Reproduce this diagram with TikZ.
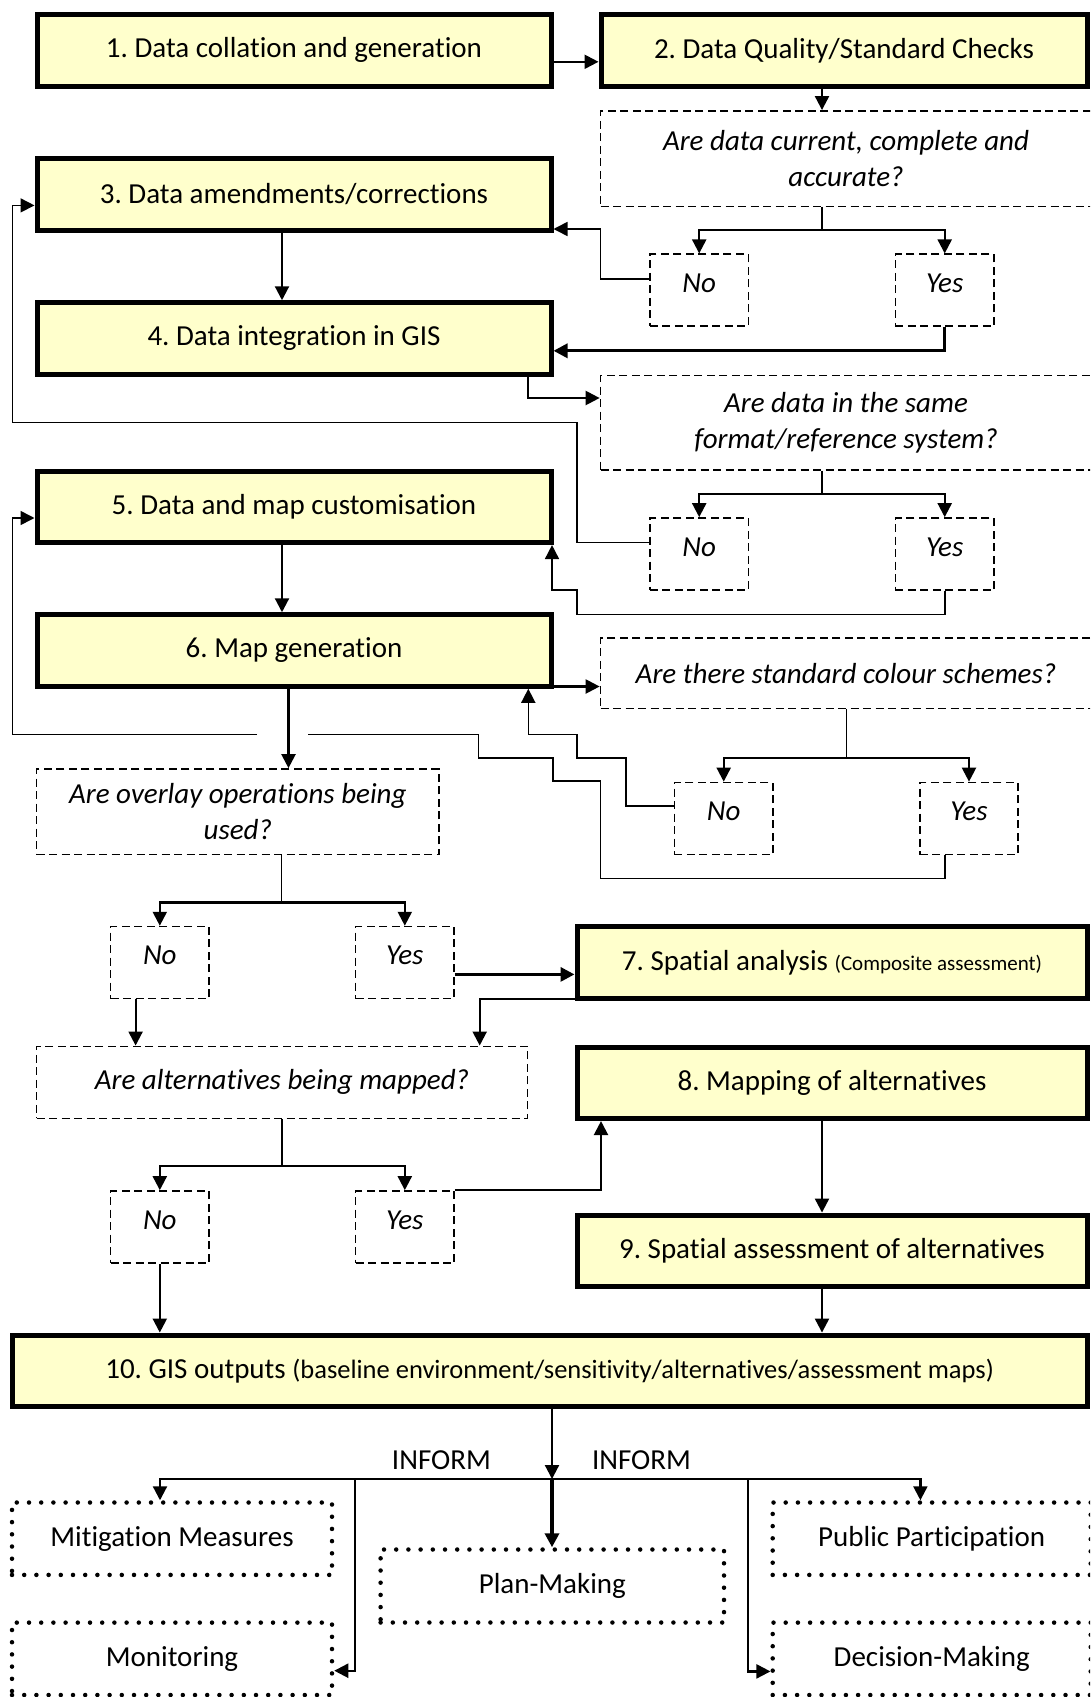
\documentclass[tikz,border=0pt]{standalone}
\usepackage{fontspec}
\setmainfont{Carlito}[Ligatures=NoCommon]
\usetikzlibrary{arrows.meta}
\definecolor{boxfill}{RGB}{255,255,204}
\newcommand{\bodysize}{\fontsize{29}{35.5}\selectfont}
\frenchspacing
\tikzset{stage/.style={draw, line width=5pt, fill=boxfill, inner sep=0pt,
                       minimum width=514pt, minimum height=71.5pt},
         ask/.style={draw, line width=1.7pt, dash pattern=on 8pt off 4.5pt,
                     inner sep=0pt, align=center, font=\bodysize\itshape},
         answer/.style={ask, minimum width=98.5pt, minimum height=72pt,
                        text height=18.7pt, text depth=14pt},
         outcome/.style={draw, line width=4.5pt, line cap=round,
                         dash pattern=on 0pt off 12.2pt, inner sep=0pt,
                         minimum width=320pt, minimum height=72.4pt},
         arr/.style={line width=2.2pt, -{Triangle[length=14pt,width=14pt]}},
         link/.style={line width=1.6pt},
         back/.style={link, -{Triangle[length=14pt,width=14pt]}}}

\begin{document}
\begin{tikzpicture}[x=1pt, y=-1pt, every node/.append style={font=\bodysize}]
\useasboundingbox (0,0) rectangle (1090,1697);
\clip (0,0) rectangle (1090,1697);

% Steps 1-6 and their checks
\node[stage] (collate) at (294,50.3) {1. Data collation and generation};
\node[stage, minimum width=486pt] (checks) at (844,50.3) {2. Data Quality/Standard Checks};
\node[ask, minimum width=491pt, minimum height=95.6pt] (current) at (846,158.7)
     {Are data current, complete and\\accurate?};
\node[answer] (no1) at (699.2,290.3) {No};
\node[answer] (yes1) at (944.7,290.3) {Yes};
\node[stage] (amend) at (294,194.5) {3. Data amendments/corrections};
\node[stage] (integ) at (294,338.5) {4. Data integration in GIS};
\node[ask, minimum width=491pt, minimum height=94.5pt] (format) at (846,422.8)
     {Are data in the same\\format/reference system?};
\node[answer] (no2) at (699.2,554) {No};
\node[answer] (yes2) at (944.7,554) {Yes};
\node[stage] (custom) at (294,506.8) {5. Data and map customisation};
\node[stage] (mapgen) at (294,650.5) {6. Map generation};
\node[ask, minimum width=491pt, minimum height=70.3pt] (colour) at (846,673.2)
     {Are there standard colour schemes?};
\node[answer] (no3) at (723.7,818.5) {No};
\node[answer] (yes3) at (969,818.5) {Yes};

% Overlay / alternatives branch, steps 7-10
\node[ask, minimum width=402.5pt, minimum height=85.4pt] (overlay) at (237.8,811.7)
     {Are overlay operations being\\used?};
\node[answer] (no4) at (159.8,962.6) {No};
\node[answer] (yes4) at (404.8,962.6) {Yes};
\node[stage, minimum width=510pt] (spatial) at (832,962.7)
     {7. Spatial analysis {\fontsize{21}{25}\selectfont(Composite assessment)}};
\node[ask, minimum width=491pt, minimum height=72pt] (altern) at (282,1082.4)
     {Are alternatives being mapped?};
\node[answer] (no5) at (159.8,1227) {No};
\node[answer] (yes5) at (404.8,1227) {Yes};
\node[stage, minimum width=510pt] (mapalt) at (832,1082.8) {8. Mapping of alternatives};
\node[stage, minimum width=510pt] (assess) at (832,1250.8) {9. Spatial assessment of alternatives};
\node[stage, minimum width=1075pt] (outputs) at (549.6,1370.8)
     {10. GIS outputs {\fontsize{26.5}{30}\selectfont(baseline environment/sensitivity/alternatives/assessment maps)}};

% What the outputs inform
\node (inform1) at (441.4,1459.8) {INFORM};
\node (inform2) at (641.5,1459.8) {INFORM};
\node[outcome] (mitig) at (172,1538.7) {Mitigation Measures};
\node[outcome] (monit) at (172,1658.8) {Monitoring};
\node[outcome, minimum width=343.4pt, minimum height=73pt] (plan) at (552.3,1586) {Plan-Making};
\node[outcome, minimum width=318pt] (public) at (931.7,1538.7) {Public Participation};
\node[outcome, minimum width=318pt] (decide) at (931.7,1658.8) {Decision-Making};

% Forks and bends
\coordinate (fork1) at (822,230);
\coordinate (fork2) at (822,493.6);
\coordinate (fork3) at (846.4,758);
\coordinate (fork4) at (281.5,902.4);
\coordinate (fork5) at (282,1166.2);
\coordinate (fork6) at (552,1479);
\coordinate (r12) at (575,61.8);
\coordinate (n1) at (600.6,229);
\coordinate (y1) at (944.7,350.8);
\coordinate (d4) at (527.6,398);
\coordinate (n2) at (577,422.4);
\coordinate (lane3) at (12.5,205.4);
\coordinate (y2a) at (577,614.5);
\coordinate (y2b) at (552,590.2);
\coordinate (m6) at (575,686.5);
\coordinate (d6) at (288.5,734.3);
\coordinate (n3a) at (625.7,757.7);
\coordinate (n3b) at (577,734.3);
\coordinate (n3c) at (528.3,734.3);
\coordinate (y3a) at (600.6,878.3);
\coordinate (y3b) at (552.7,781);
\coordinate (y3c) at (478.3,757.7);
\coordinate (gapR) at (307.6,734.3);
\coordinate (gapL) at (257,734.3);
\coordinate (lane5) at (12.5,518);
\coordinate (y4) at (500,974.4);
\coordinate (s7) at (479.7,998.8);
\coordinate (n4) at (135.6,998.8);
\coordinate (y5) at (601,1190.8);
\coordinate (a9) at (822,1300);
\coordinate (b3) at (355.2,1479);
\coordinate (b4) at (748.3,1479);

% Steps 1-4
\draw[arr] (collate.east |- r12) -- (checks.west |- r12);
\draw[arr] (checks.south -| fork1) -- (current.north -| fork1);
\draw[link] (current.south -| fork1) -- (fork1);
\draw[arr] (fork1) -| (no1.north);
\draw[arr] (fork1) -| (yes1.north);
\draw[back] ([yshift=11.4pt]no1.west) -| (n1) -- (amend.east |- n1);
\draw[arr, line width=3.2pt] (yes1.south) -- (y1) -- (integ.east |- y1);
\draw[arr] ([xshift=-12pt]amend.south) -- ([xshift=-12pt]integ.north);
\draw[arr] (integ.south -| d4) |- (format.west |- d4);

% Steps 4-6
\draw[link] (format.south -| fork2) -- (fork2);
\draw[arr] (fork2) -| (no2.north);
\draw[arr] (fork2) -| (yes2.north);
\draw[back] ([yshift=11.6pt]no2.west) -| (n2) -| (lane3) -- (amend.west |- lane3);
\draw[back] (yes2.south) |- (y2a) |- (y2b) -- (custom.south -| y2b);
\draw[arr] ([xshift=-12pt]custom.south) -- ([xshift=-12pt]mapgen.north);
\draw[arr] (mapgen.east |- m6) -- (colour.west |- m6);

% Colour schemes loop (with a break where it crosses)
\draw[link] (colour.south -| fork3) -- (fork3);
\draw[arr] (fork3) -| (no3.north);
\draw[arr] (fork3) -| (yes3.north);
\draw[back] ([yshift=12.5pt]no3.west) -| (n3a) -| (n3b) -- (n3c) -- (mapgen.south -| n3c);
\draw[back] ([xshift=-24.3pt]yes3.south) |- (y3a) |- (y3b) |- (y3c) |- (gapR)
            (gapL) -| (lane5) -- (custom.west |- lane5);
\draw[arr] (mapgen.south -| d6) -- (overlay.north -| d6);

% Overlay and alternatives
\draw[link] (overlay.south -| fork4) -- (fork4);
\draw[arr] (fork4) -| (no4.north);
\draw[arr] (fork4) -| (yes4.north);
\draw[arr, line width=3.2pt] (yes4.east |- y4) -- (spatial.west |- y4);
\draw[arr] (spatial.west |- s7) -| (altern.north -| s7);
\draw[arr] (no4.south -| n4) -- (altern.north -| n4);
\draw[link] (altern.south -| fork5) -- (fork5);
\draw[arr] (fork5) -| (no5.north);
\draw[arr] (fork5) -| (yes5.north);
\draw[arr] (yes5.north east) -| (mapalt.south -| y5);
\draw[arr] (mapalt.south -| a9) -- (assess.north -| a9);
\draw[arr] (assess.south -| a9) -- (outputs.north -| a9);
\draw[arr] (no5.south) -- (no5.south |- outputs.north);

% Outputs
\draw[arr] (outputs.south -| fork6) -- (fork6);
\draw[arr, line width=4.5pt] (fork6) -- (plan.north -| fork6);
\draw[arr] (fork6) -| ([xshift=-12pt]mitig.north);
\draw[arr] (fork6) -| ([xshift=-11.3pt]public.north);
\draw[arr] (b3) |- ([yshift=-11.9pt]monit.east);
\draw[arr] (b4) |- ([yshift=-12.6pt]decide.west);
\end{tikzpicture}
\end{document}
